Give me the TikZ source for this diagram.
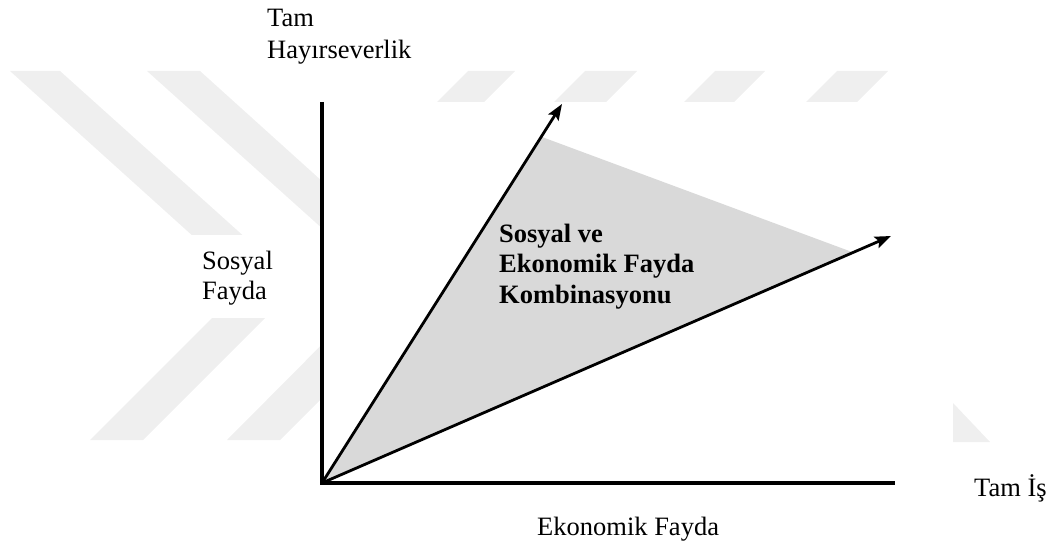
\documentclass[tikz,border=0pt]{standalone}
\usepackage{fontspec}
\setmainfont{Liberation Serif}
\usetikzlibrary{arrows.meta}
\definecolor{wm}{RGB}{239,239,239}
\definecolor{area}{RGB}{217,217,217}
\tikzset{
  lbl/.style={anchor=base west, inner sep=0pt, font=\fontsize{26.5}{32}\selectfont},
  blbl/.style={lbl, font=\fontsize{26.5}{32}\selectfont\bfseries},
  axisline/.style={line width=3.4pt, line join=miter},
  ray/.style={line width=2.8pt, -{Stealth[length=16pt,width=12pt,inset=3pt]}},
  mark wm/.style={fill=wm, draw=none},
}
\begin{document}
\begin{tikzpicture}[x=1pt,y=-1pt]
\useasboundingbox (0,0) rectangle (1052,545);
% watermark
\fill[wm] (10,71) -- (60,71) -- (298,285) -- (143,440) -- (90,440) -- (246,284) -- cycle;
\fill[wm] (147,71) -- (200,71) -- (436,284) -- (280,440) -- (227,440) -- (383,283) -- cycle;
\fill[wm] (468,71) -- (515,71) -- (484,102) -- (437,102) -- cycle;
\fill[wm] (585,71) -- (637,71) -- (606,102) -- (554,102) -- cycle;
\fill[wm] (715,71) -- (765,71) -- (734,102) -- (684,102) -- cycle;
\fill[wm] (837,71) -- (888,71) -- (857,102) -- (806,102) -- cycle;
\fill[wm] (953,403) -- (990,442) -- (953,442) -- cycle;
% white panels
\fill[white] (320,102) rectangle (953,446);
\fill[white] (182,235) rectangle (307,318);
% coordinates
\coordinate (O) at (322,483);
\coordinate (Ytop) at (322,102);
\coordinate (Xend) at (895,483);
\coordinate (A1) at (562,104);
\coordinate (A2) at (891,236);
\coordinate (G1) at (542,137);
\coordinate (G2) at (852,252);
% shaded region
\fill[area] (O) -- (G1) -- (G2) -- cycle;
% rays
\draw[ray] (O) -- (A1);
\draw[ray] (O) -- (A2);
% axes
\draw[axisline] (Ytop) -- (O) -- (Xend);
% labels
\node[lbl] (tam1) at (267,27) {Tam};
\node[lbl] (tam2) at (267,59) {Hayırseverlik};
\node[lbl] (sf1) at (202,270) {Sosyal};
\node[lbl] (sf2) at (202,300) {Fayda};
\node[blbl] (c1) at (499,243) {Sosyal ve};
\node[blbl] (c2) at (499,273) {Ekonomik Fayda};
\node[blbl] (c3) at (499,304) {Kombinasyonu};
\node[lbl] (ti) at (974,496) {Tam İş};
\node[lbl] (ef) at (537,535) {Ekonomik Fayda};
\end{tikzpicture}
\end{document}
